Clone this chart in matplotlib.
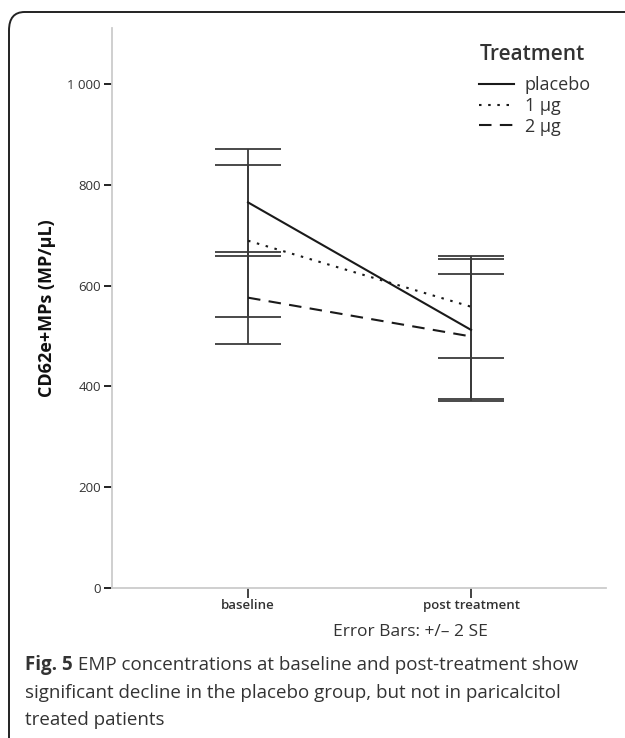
import matplotlib
matplotlib.use("Agg")
import matplotlib.pyplot as plt
from matplotlib.patches import FancyBboxPatch
from matplotlib.lines import Line2D
import numpy as np

categories = ["baseline", "post treatment"]
groups = ["placebo", "1 µg", "2 µg"]
means = {
    "placebo": [765, 512],
    "1 µg": [689, 558],
    "2 µg": [576, 499],
}
errors = {  # +/- 2 SE
    "placebo": [106, 141],
    "1 µg": [151, 101],
    "2 µg": [91, 124],
}
yticks = [0, 200, 400, 600, 800, 1000]
ytick_labels = ["0", "200", "400", "600", "800", "1 000"]
caption_bold = "Fig. 5"
caption_lines = [
    " EMP concentrations at baseline and post-treatment show",
    "significant decline in the placebo group, but not in paricalcitol",
    "treated patients",
]

styles = {
    "placebo": dict(linestyle="-"),
    "1 µg": dict(linestyle=(0, (1.2, 3.2))),
    "2 µg": dict(linestyle=(0, (6, 4))),
}

font = "Open Sans"
plt.rcParams["font.family"] = [font, "DejaVu Sans"]

fig = plt.figure(figsize=(6.25, 7.38), dpi=100)
W, H = 625, 738

# rounded border
border = FancyBboxPatch((9 / W, -20 / H), 640 / W, (738 - 12 + 20) / H,
                        boxstyle="round,pad=0,rounding_size=0.025",
                        transform=fig.transFigure, fill=False,
                        edgecolor="#222222", linewidth=1.4, clip_on=False)
fig.patches.append(border)

ax = fig.add_axes([112 / W, 1 - 588 / H, (606 - 112) / W, (588 - 28) / H])
x = np.arange(len(categories))
line_color = "#1a1a1a"

# error bars
for g in groups:
    m = np.array(means[g])
    e = np.array(errors[g])
    ax.errorbar(x, m, yerr=e, fmt="none", ecolor="#3a3a3a", elinewidth=1.3,
                capsize=24, capthick=1.3, zorder=2)
for g in groups:
    ax.plot(x, means[g], color=line_color, linewidth=1.5, zorder=3, **styles[g])

ax.set_xlim(-0.61, 1.605)
ax.set_ylim(0, 1111)
ax.set_xticks(x)
ax.set_xticklabels(categories, fontsize=9.5, color="#333333", fontweight="semibold")
ax.set_yticks(yticks)
ax.set_yticklabels(ytick_labels, fontsize=9.5, color="#333333")
for s in ["top", "right"]:
    ax.spines[s].set_visible(False)
for s in ["left", "bottom"]:
    ax.spines[s].set_color("#cccccc")
    ax.spines[s].set_linewidth(1.3)
ax.tick_params(axis="y", length=6, width=1.4, color="#222222", pad=2)
ax.tick_params(axis="x", length=7, width=1.2, color="#222222", pad=1)
ax.set_ylabel("CD62e+MPs (MP/µL)", fontsize=13, fontweight="bold", labelpad=8,
              color="#111111")

handles = [Line2D([0], [0], color=line_color, linewidth=1.5, **styles[g]) for g in groups]
leg = ax.legend(handles, groups, title="Treatment", loc="upper left",
                bbox_to_anchor=(0.711, 1.0), frameon=False, fontsize=13,
                title_fontsize=15, handlelength=1.9, handletextpad=0.6,
                labelspacing=0.15, alignment="left")
for t in leg.get_texts():
    t.set_color("#333333")
leg.get_title().set_color("#333333")
leg.get_title().set_fontweight("semibold")
leg._legend_box.sep = 8

fig.text(410 / W, 1 - 632 / H, "Error Bars: +/\u2013 2 SE", ha="center", va="center",
         fontsize=12.5, color="#333333")

cap_kw = dict(fontsize=13.5, color="#333333", va="center", ha="left")
tb = fig.text(25 / W, 1 - 665 / H, caption_bold, fontweight="bold", **cap_kw)
fig.canvas.draw()
bb = tb.get_window_extent(renderer=fig.canvas.get_renderer())
fig.text(bb.x1 / W, 1 - 665 / H, caption_lines[0], **cap_kw)
fig.text(25 / W, 1 - 693 / H, caption_lines[1], **cap_kw)
fig.text(25 / W, 1 - 720 / H, caption_lines[2], **cap_kw)

plt.savefig("out.png", dpi=100)
